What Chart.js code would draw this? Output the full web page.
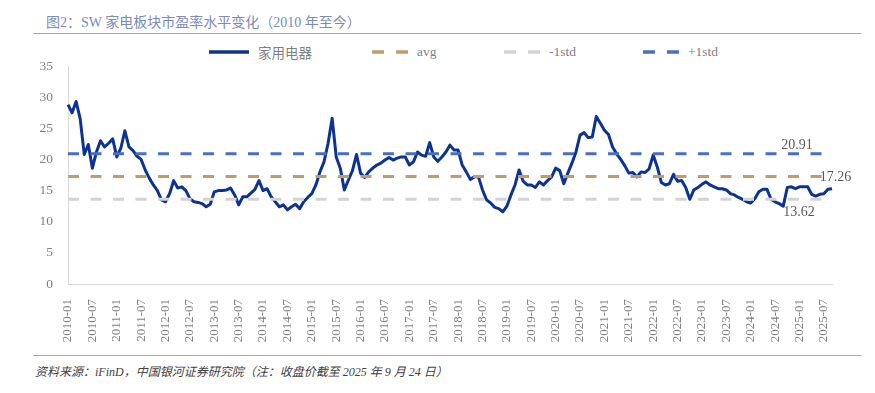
<!DOCTYPE html>
<html lang="zh-CN">
<head>
<meta charset="utf-8">
<script src="https://cdn.jsdelivr.net/npm/chart.js@4.4.1/dist/chart.umd.min.js"></script>
<style>
    body {
        margin: 0;
        width: 875px;
        height: 393px;
        background: #fff;
        position: relative;
        overflow: hidden;
        font-family: "Liberation Serif", "Noto Sans CJK SC", serif;
    }
    .title {
        position: absolute;
        left: 46px;
        top: 11px;
        font-size: 14px;
        color: #7b8ab8;
        white-space: nowrap;
    }
    .rule {
        position: absolute;
        left: 33px;
        width: 828px;
        border-top: 1.5px solid #8ea9db;
    }
    .source {
        position: absolute;
        left: 35px;
        top: 362px;
        font-size: 12px;
        font-style: italic;
        color: #404040;
        white-space: nowrap;
    }
    .legend-item {
        position: absolute;
        top: 43px;
        height: 18px;
        display: flex;
        align-items: center;
        font-size: 13.5px;
        color: #7f7f7f;
        white-space: nowrap;
    }
    .legend-item svg {
        margin-right: 9px;
    }
    .chart-box {
        position: absolute;
        left: 0;
        top: 40px;
        width: 875px;
        height: 310px;
    }
</style>
</head>
<body>
<div class="title">图2：SW 家电板块市盈率水平变化（2010 年至今）</div>
<div class="rule" style="top: 33px;"></div>

<div class="legend-item" style="left: 209px;">
    <svg width="40" height="6"><line x1="0" y1="3" x2="40" y2="3" stroke="#0c3391" stroke-width="3.5" stroke-linecap="round"/></svg>家用电器
</div>
<div class="legend-item" style="left: 372px;">
    <svg width="36" height="6"><line x1="0" y1="3" x2="36" y2="3" stroke="#c09b6b" stroke-width="3.5" stroke-dasharray="12 12"/></svg>avg
</div>
<div class="legend-item" style="left: 504px;">
    <svg width="36" height="6"><line x1="0" y1="3" x2="36" y2="3" stroke="#d3d3d3" stroke-width="3.5" stroke-dasharray="12 12"/></svg>-1std
</div>
<div class="legend-item" style="left: 643px;">
    <svg width="36" height="6"><line x1="0" y1="3" x2="36" y2="3" stroke="#4a70bd" stroke-width="3.5" stroke-dasharray="12 12"/></svg>+1std
</div>

<div class="chart-box"><canvas id="peChart"></canvas></div>

<div class="rule" style="top: 355px;"></div>
<div class="source">资料来源：iFinD，中国银河证券研究院（注：收盘价截至 2025 年 9 月 24 日）</div>

<script>
// 月度市盈率（TTM），2010-01 ~ 2025-09
var months = [];
for (var yr = 2010; yr <= 2025; yr++) {
    for (var mo = 1; mo <= 12; mo++) {
        if (yr === 2025 && mo > 9) break;
        months.push(yr + '-' + (mo < 10 ? '0' + mo : mo));
    }
}

var peValues = [
    28.8, 27.5, 29.3, 26.5, 20.8, 22.4, 18.6, 21.2, 23.0, 22.0, 22.6, 23.3, // 2010
    20.4, 21.8, 24.6, 22.0, 21.4, 20.5, 20.0, 18.3, 17.0, 15.9, 15.0, 13.5, // 2011
    13.2, 14.5, 16.6, 15.4, 15.6, 15.0, 13.7, 13.2, 13.1, 12.9, 12.4, 12.8, // 2012
    14.8, 15.0, 15.0, 15.1, 15.4, 14.3, 12.7, 14.0, 14.0, 14.6, 15.2, 16.6, // 2013
    15.0, 15.3, 14.0, 13.2, 12.4, 12.7, 11.9, 12.4, 12.8, 12.1, 13.2, 13.9, // 2014
    14.5, 15.9, 18.0, 19.6, 22.6, 26.6, 20.4, 18.6, 15.1, 16.7, 18.2, 20.8, // 2015
    17.8, 17.1, 18.0, 18.6, 19.1, 19.4, 19.9, 20.3, 19.9, 20.2, 20.4, 20.4, // 2016
    19.1, 19.6, 21.2, 20.7, 20.5, 22.7, 20.4, 19.7, 20.4, 21.2, 22.3, 21.5, // 2017
    21.5, 19.1, 18.0, 16.8, 17.2, 17.2, 15.1, 13.5, 13.0, 12.3, 12.1, 11.6, // 2018
    12.5, 14.3, 15.9, 18.3, 16.5, 15.9, 15.9, 15.5, 16.4, 15.9, 16.6, 17.2, // 2019
    18.6, 18.2, 16.1, 17.8, 19.4, 21.2, 23.9, 24.3, 23.5, 23.6, 26.9, 25.8, // 2020
    24.7, 24.0, 22.0, 20.9, 20.0, 19.0, 17.8, 17.9, 17.2, 18.0, 17.9, 18.5, // 2021
    20.7, 18.8, 16.3, 15.9, 16.1, 17.6, 16.5, 16.6, 15.5, 13.6, 15.1, 15.5, // 2022
    16.0, 16.4, 15.9, 15.6, 15.3, 15.3, 15.1, 14.5, 14.3, 13.9, 13.6, 13.2, // 2023
    13.0, 13.7, 14.8, 15.2, 15.2, 13.6, 13.2, 12.9, 12.5, 15.5, 15.6, 15.3, // 2024
    15.6, 15.6, 15.6, 14.4, 14.1, 14.4, 14.5, 15.2, 15.3                    // 2025
];

var avgValue = 17.26;
var lowValue = 13.62;   // 均值 - 1 倍标准差
var highValue = 20.91;  // 均值 + 1 倍标准差
var refEnd = months.indexOf('2025-07');

function flatLine(val) {
    return months.map(function (m, i) {
        return i <= refEnd ? val : null;
    });
}

var serifFont = '"Liberation Serif", "Noto Sans CJK SC", serif';

var refLabels = {
    id: 'refLabels',
    afterDatasetsDraw: function (chart) {
        var ctx = chart.ctx;
        var x = chart.scales.x;
        var y = chart.scales.y;
        var endX = x.getPixelForValue(refEnd);
        ctx.save();
        ctx.font = '14px ' + serifFont;
        ctx.fillStyle = '#595959';

        ctx.textAlign = 'right';
        ctx.textBaseline = 'bottom';
        ctx.fillText(highValue.toFixed(2), endX - 11, y.getPixelForValue(highValue) - 1);

        ctx.textAlign = 'left';
        ctx.textBaseline = 'middle';
        ctx.fillText(avgValue.toFixed(2), endX - 4, y.getPixelForValue(avgValue) + 1);

        ctx.textAlign = 'right';
        ctx.textBaseline = 'top';
        ctx.fillText(lowValue.toFixed(2), endX - 9, y.getPixelForValue(lowValue) + 6);
        ctx.restore();
    }
};

var ctx = document.getElementById('peChart');
var peChart = new Chart(ctx, {
    type: 'line',
    data: {
        labels: months,
        datasets: [{
            label: '家用电器',
            data: peValues,
            borderColor: '#0c3391',
            borderWidth: 3,
            borderJoinStyle: 'round',
            pointRadius: 0,
            tension: 0,
            order: 5
        }, {
            label: 'avg',
            data: flatLine(avgValue),
            borderColor: '#c09b6b',
            borderWidth: 3,
            borderDash: [11, 11.5],
            pointRadius: 0,
            order: 1
        }, {
            label: '-1std',
            data: flatLine(lowValue),
            borderColor: '#d3d3d3',
            borderWidth: 3,
            borderDash: [11, 11.5],
            pointRadius: 0,
            order: 2
        }, {
            label: '+1std',
            data: flatLine(highValue),
            borderColor: '#4a70bd',
            borderWidth: 3,
            borderDash: [11, 11.5],
            pointRadius: 0,
            order: 3
        }]
    },
    options: {
        responsive: true,
        maintainAspectRatio: false,
        animation: false,
        layout: {
            padding: { top: 26, right: 43, left: 0, bottom: 0 }
        },
        plugins: {
            legend: { display: false },
            tooltip: { enabled: false }
        },
        scales: {
            x: {
                grid: { display: false },
                border: { color: '#d9d9d9', width: 1 },
                ticks: {
                    autoSkip: false,
                    minRotation: 90,
                    maxRotation: 90,
                    padding: 7,
                    color: '#7f7f7f',
                    font: { family: serifFont, size: 13 },
                    callback: function (val) {
                        var lab = months[val];
                        var mm = lab.slice(5);
                        return (mm === '01' || mm === '07') ? lab : null;
                    }
                },
                afterFit: function (scale) {
                    scale.height = 66;
                }
            },
            y: {
                min: 0,
                max: 35,
                grid: { display: false, drawTicks: false },
                border: { color: '#d9d9d9', width: 1 },
                ticks: {
                    stepSize: 5,
                    padding: 15,
                    color: '#7f7f7f',
                    font: { family: serifFont, size: 13.5 }
                },
                afterFit: function (scale) {
                    scale.width = 68;
                }
            }
        }
    },
    plugins: [refLabels]
});
</script>
</body>
</html>
